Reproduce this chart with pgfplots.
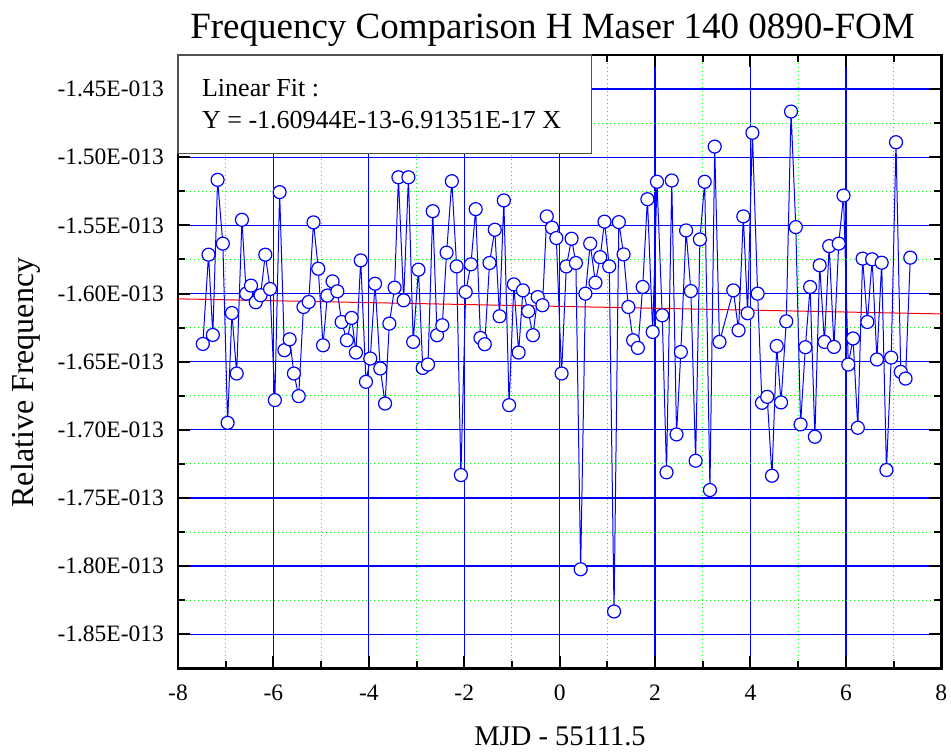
\documentclass[border=0pt]{standalone}
\usepackage{fontspec}
\setmainfont{Liberation Serif}
\usepackage{pgfplots}
\pgfplotsset{compat=1.18}
\usetikzlibrary{calc}
\definecolor{mblue}{HTML}{0000FF}
\definecolor{mgreen}{HTML}{00FF00}
\definecolor{mred}{HTML}{FF0000}
\definecolor{boxgray}{HTML}{505050}

\begin{document}
\begin{tikzpicture}
\begin{axis}[
  scale only axis,
  width=381.65pt, height=306.65pt,
  xmin=-8, xmax=8,
  ymin=-1.875e-13, ymax=-1.425e-13,
  xtick={-8,-6,...,8},
  minor x tick num=1,
  ytick={-1.85e-13,-1.80e-13,-1.75e-13,-1.70e-13,-1.65e-13,-1.60e-13,-1.55e-13,-1.50e-13,-1.45e-13},
  yticklabels={-1.85E-013,-1.80E-013,-1.75E-013,-1.70E-013,-1.65E-013,-1.60E-013,-1.55E-013,-1.50E-013,-1.45E-013},
  minor y tick num=1,
  scaled y ticks=false,
  grid=both,
  major grid style={mblue, line width=0.65pt},
  minor grid style={mgreen, line width=0.5pt, dash pattern=on 0.6pt off 1.4pt},
  axis line style={black, line width=1.3pt},
  every tick/.style={black, line width=1pt},
  major tick length=6pt, minor tick length=3.5pt,
  tick align=inside,
  /pgf/number format/assume math mode=true,
  ticklabel style={font=\fontsize{11.75}{14}\selectfont},
  xticklabel style={anchor=base, inner sep=0pt, yshift=-15.85pt},
  yticklabel style={anchor=east, inner sep=0pt, xshift=-6.85pt},
]
% linear fit from the box text
\addplot[mred, line width=0.5pt] coordinates {(-8,-1.60391e-13) (8,-1.61497e-13)};

\addplot[mblue, line width=0.5pt, mark=*, mark size=3.25pt,
  mark options={draw=mblue, fill=white, line width=0.6pt, solid}] table {
x y
-7.48 -1.6370e-13
-7.36 -1.5715e-13
-7.27 -1.6304e-13
-7.17 -1.5166e-13
-7.06 -1.5634e-13
-6.96 -1.6949e-13
-6.87 -1.6143e-13
-6.77 -1.6587e-13
-6.66 -1.5459e-13
-6.57 -1.6001e-13
-6.47 -1.5942e-13
-6.37 -1.6064e-13
-6.27 -1.6013e-13
-6.17 -1.5715e-13
-6.07 -1.5967e-13
-5.97 -1.6782e-13
-5.87 -1.5256e-13
-5.77 -1.6416e-13
-5.66 -1.6336e-13
-5.57 -1.6587e-13
-5.47 -1.6753e-13
-5.37 -1.6099e-13
-5.26 -1.6062e-13
-5.16 -1.5478e-13
-5.06 -1.5818e-13
-4.96 -1.6380e-13
-4.87 -1.6015e-13
-4.76 -1.5911e-13
-4.66 -1.5984e-13
-4.57 -1.6209e-13
-4.46 -1.6343e-13
-4.36 -1.6179e-13
-4.27 -1.6433e-13
-4.17 -1.5757e-13
-4.06 -1.6648e-13
-3.97 -1.6477e-13
-3.87 -1.5928e-13
-3.76 -1.6550e-13
-3.66 -1.6807e-13
-3.57 -1.6221e-13
-3.46 -1.5957e-13
-3.38 -1.5147e-13
-3.27 -1.6050e-13
-3.17 -1.5147e-13
-3.07 -1.6355e-13
-2.96 -1.5825e-13
-2.87 -1.6546e-13
-2.76 -1.6521e-13
-2.66 -1.5396e-13
-2.57 -1.6306e-13
-2.46 -1.6233e-13
-2.37 -1.5700e-13
-2.26 -1.5176e-13
-2.16 -1.5801e-13
-2.07 -1.7332e-13
-1.97 -1.5989e-13
-1.86 -1.5786e-13
-1.76 -1.5381e-13
-1.66 -1.6326e-13
-1.57 -1.6372e-13
-1.47 -1.5776e-13
-1.36 -1.5532e-13
-1.26 -1.6167e-13
-1.17 -1.5317e-13
-1.06 -1.6819e-13
-0.96 -1.5933e-13
-0.86 -1.6433e-13
-0.77 -1.5977e-13
-0.66 -1.6130e-13
-0.56 -1.6306e-13
-0.46 -1.6026e-13
-0.36 -1.6086e-13
-0.27 -1.5434e-13
-0.16 -1.5517e-13
-0.07 -1.5593e-13
0.04 -1.6587e-13
0.14 -1.5801e-13
0.25 -1.5598e-13
0.34 -1.5776e-13
0.44 -1.8023e-13
0.54 -1.6001e-13
0.64 -1.5634e-13
0.75 -1.5920e-13
0.85 -1.5733e-13
0.94 -1.5473e-13
1.04 -1.5801e-13
1.14 -1.8333e-13
1.24 -1.5476e-13
1.34 -1.5713e-13
1.44 -1.6099e-13
1.54 -1.6343e-13
1.64 -1.6399e-13
1.74 -1.5952e-13
1.84 -1.5308e-13
1.95 -1.6282e-13
2.04 -1.5180e-13
2.15 -1.6160e-13
2.24 -1.7312e-13
2.35 -1.5171e-13
2.45 -1.7034e-13
2.54 -1.6429e-13
2.65 -1.5537e-13
2.75 -1.5982e-13
2.85 -1.7227e-13
2.94 -1.5603e-13
3.04 -1.5180e-13
3.15 -1.7442e-13
3.25 -1.4922e-13
3.35 -1.6355e-13
3.64 -1.5977e-13
3.75 -1.6270e-13
3.85 -1.5434e-13
3.94 -1.6145e-13
4.04 -1.4821e-13
4.15 -1.6001e-13
4.24 -1.6802e-13
4.35 -1.6758e-13
4.45 -1.7337e-13
4.55 -1.6385e-13
4.64 -1.6799e-13
4.75 -1.6204e-13
4.85 -1.4665e-13
4.95 -1.5513e-13
5.05 -1.6960e-13
5.15 -1.6394e-13
5.25 -1.5952e-13
5.35 -1.7051e-13
5.45 -1.5793e-13
5.55 -1.6355e-13
5.65 -1.5652e-13
5.75 -1.6392e-13
5.85 -1.5634e-13
5.95 -1.5281e-13
6.05 -1.6521e-13
6.15 -1.6330e-13
6.25 -1.6985e-13
6.35 -1.5744e-13
6.45 -1.6209e-13
6.55 -1.5749e-13
6.65 -1.6484e-13
6.75 -1.5774e-13
6.85 -1.7295e-13
6.95 -1.6470e-13
7.05 -1.4890e-13
7.15 -1.6575e-13
7.25 -1.6624e-13
7.35 -1.5737e-13
};

\coordinate (tl) at (rel axis cs:0,1);
\coordinate (bl) at (rel axis cs:0,0);
\coordinate (tr) at (rel axis cs:1,1);
\end{axis}

% fit box, over the grid and ticks
\draw[boxgray, line width=0.75pt, fill=white] (tl) rectangle ++(206.85pt,-49.15pt);
\node[anchor=base west, inner sep=0pt, font=\fontsize{13}{15}\selectfont]
  at ($(tl)+(11.85pt,-20.85pt)$) {Linear Fit :};
\node[anchor=base west, inner sep=0pt, font=\fontsize{13}{15}\selectfont]
  at ($(tl)+(11.85pt,-36.65pt)$) {Y = -1.60944E-13-6.91351E-17 X};

\node[anchor=base, inner sep=0pt, font=\fontsize{18.5}{22}\selectfont]
  at ($(tl)+(187.25pt,8.35pt)$) {Frequency Comparison H Maser 140 0890-FOM};
\node[anchor=base, inner sep=0pt, font=\fontsize{14.25}{17}\selectfont]
  at ($(bl)+(191pt,-38.35pt)$) {MJD - 55111.5};
\node[anchor=base, rotate=90, inner sep=0pt, font=\fontsize{16}{19}\selectfont]
  at ($(bl)+(-72.35pt,142.9pt)$) {Relative Frequency};

\pgfresetboundingbox
\path ($(bl)+(-89pt,-41.35pt)$) rectangle ($(tr)+(4.85pt,27.5pt)$);
\end{tikzpicture}
\end{document}
